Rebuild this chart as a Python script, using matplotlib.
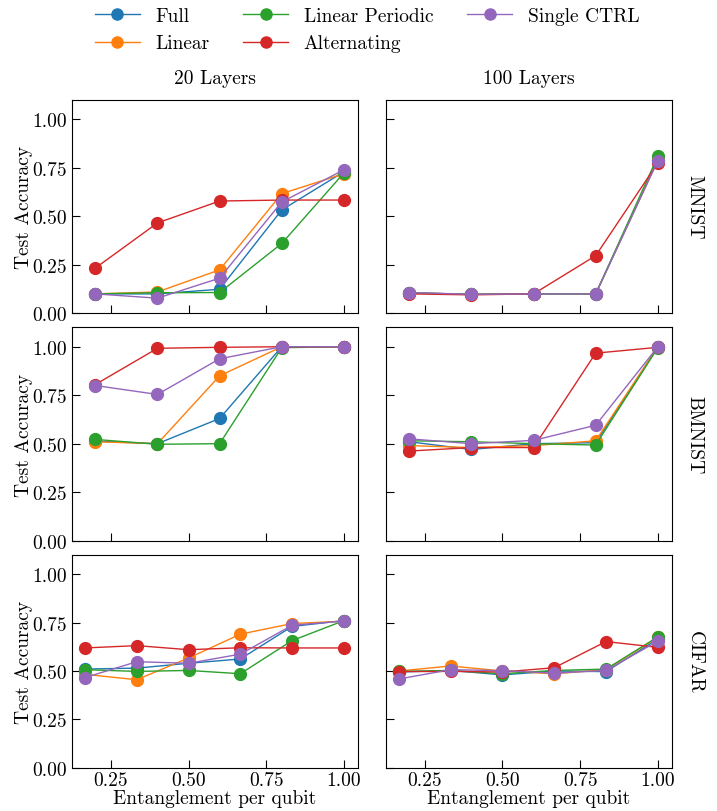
import matplotlib
matplotlib.use("Agg")
import matplotlib.pyplot as plt
from matplotlib.lines import Line2D

plt.rcParams['font.family'] = ['cmr10', 'DejaVu Serif']
plt.rcParams['mathtext.fontset'] = 'cm'
plt.rcParams['axes.formatter.use_mathtext'] = True
plt.rcParams['font.size'] = 14

series_names = ["Full", "Linear", "Linear Periodic", "Alternating", "Single CTRL"]
colors = ["#1f77b4", "#ff7f0e", "#2ca02c", "#d62728", "#9467bd"]
datasets = ["MNIST", "BMNIST", "CIFAR"]
layers = ["20 Layers", "100 Layers"]

x_five = [0.2, 0.4, 0.6, 0.8, 1.0]
x_six = [1/6, 2/6, 3/6, 4/6, 5/6, 1.0]

# MNIST, 20 layers
mnist_20 = {
    "Full":            [0.10, 0.10, 0.124, 0.533, 0.73],
    "Linear":          [0.10, 0.11, 0.224, 0.617, 0.72],
    "Linear Periodic": [0.10, 0.106, 0.107, 0.36, 0.724],
    "Alternating":     [0.233, 0.466, 0.579, 0.584, 0.584],
    "Single CTRL":     [0.10, 0.078, 0.181, 0.574, 0.74],
}
# MNIST, 100 layers
mnist_100 = {
    "Full":            [0.105, 0.098, 0.10, 0.10, 0.79],
    "Linear":          [0.105, 0.098, 0.10, 0.10, 0.79],
    "Linear Periodic": [0.105, 0.098, 0.10, 0.10, 0.81],
    "Alternating":     [0.10, 0.095, 0.10, 0.297, 0.776],
    "Single CTRL":     [0.107, 0.098, 0.10, 0.10, 0.788],
}
# BMNIST, 20 layers
bmnist_20 = {
    "Full":            [0.513, 0.50, 0.63, 1.0, 1.0],
    "Linear":          [0.51, 0.50, 0.85, 1.0, 1.0],
    "Linear Periodic": [0.522, 0.497, 0.50, 0.995, 1.0],
    "Alternating":     [0.805, 0.992, 0.997, 1.0, 1.0],
    "Single CTRL":     [0.80, 0.754, 0.938, 1.0, 1.0],
}
# BMNIST, 100 layers
bmnist_100 = {
    "Full":            [0.51, 0.47, 0.50, 0.505, 1.0],
    "Linear":          [0.49, 0.48, 0.49, 0.515, 1.0],
    "Linear Periodic": [0.515, 0.51, 0.50, 0.493, 0.995],
    "Alternating":     [0.462, 0.48, 0.48, 0.967, 0.997],
    "Single CTRL":     [0.525, 0.50, 0.517, 0.595, 1.0],
}
# CIFAR, 20 layers
cifar_20 = {
    "Full":            [0.51, 0.515, 0.54, 0.562, 0.73, 0.76],
    "Linear":          [0.483, 0.455, 0.567, 0.69, 0.745, 0.757],
    "Linear Periodic": [0.507, 0.498, 0.503, 0.486, 0.657, 0.76],
    "Alternating":     [0.619, 0.631, 0.61, 0.62, 0.619, 0.619],
    "Single CTRL":     [0.466, 0.548, 0.54, 0.587, 0.736, 0.758],
}
# CIFAR, 100 layers
cifar_100 = {
    "Full":            [0.495, 0.503, 0.48, 0.50, 0.497, 0.665],
    "Linear":          [0.50, 0.526, 0.50, 0.486, 0.507, 0.674],
    "Linear Periodic": [0.498, 0.503, 0.486, 0.503, 0.51, 0.676],
    "Alternating":     [0.497, 0.498, 0.495, 0.517, 0.652, 0.622],
    "Single CTRL":     [0.459, 0.507, 0.502, 0.489, 0.503, 0.654],
}

panels = [
    [(x_five, mnist_20), (x_five, mnist_100)],
    [(x_five, bmnist_20), (x_five, bmnist_100)],
    [(x_six, cifar_20), (x_six, cifar_100)],
]

yticks = [0.0, 0.25, 0.5, 0.75, 1.0]
xticks = [0.25, 0.5, 0.75, 1.0]

fig, axes = plt.subplots(3, 2, figsize=(7.17, 8.12), dpi=100, sharex=True, sharey=True)
fig.subplots_adjust(left=0.1004, right=0.937, top=0.8756, bottom=0.053,
                    wspace=0.098, hspace=0.066)

for r in range(3):
    for c in range(2):
        ax = axes[r, c]
        xs, data = panels[r][c]
        for name, col in zip(series_names, colors):
            ax.plot(xs, data[name], color=col, marker='o', markersize=8.5, linewidth=1)
        ax.set_ylim(0, 1.1)
        ax.set_yticks(yticks)
        ax.set_xticks(xticks)
        ax.set_yticklabels([f"{v:.2f}" for v in yticks])
        ax.set_xticklabels([f"{v:.2f}" for v in xticks])
        ax.tick_params(direction='in', length=6, top=False, right=False, labelsize=14)
        ax.tick_params(axis='x', pad=2)
        if c == 0:
            ax.set_ylabel("Test Accuracy", fontsize=14, labelpad=0)
        if r == 2:
            ax.set_xlabel("Entanglement per qubit", fontsize=14, labelpad=0)
        if r == 0:
            ax.set_title(layers[c], fontsize=14, pad=12)
        if c == 1:
            ax.text(1.08, 0.5, datasets[r], transform=ax.transAxes, rotation=270,
                    va='center', ha='center', fontsize=14)
        ax.tick_params(labelleft=(c == 0))

axes[0, 0].set_xlim(0.125, 1.045)

handles = [Line2D([0], [0], color=col, marker='o', markersize=8, linewidth=1)
           for col in colors]
fig.legend(handles, series_names, loc='upper center', ncol=3, frameon=False,
           bbox_to_anchor=(0.512, 1.012), fontsize=14, columnspacing=1.75,
           handlelength=2.3, handletextpad=0.8, labelspacing=0.5)

fig.savefig("out.png", dpi=100)
